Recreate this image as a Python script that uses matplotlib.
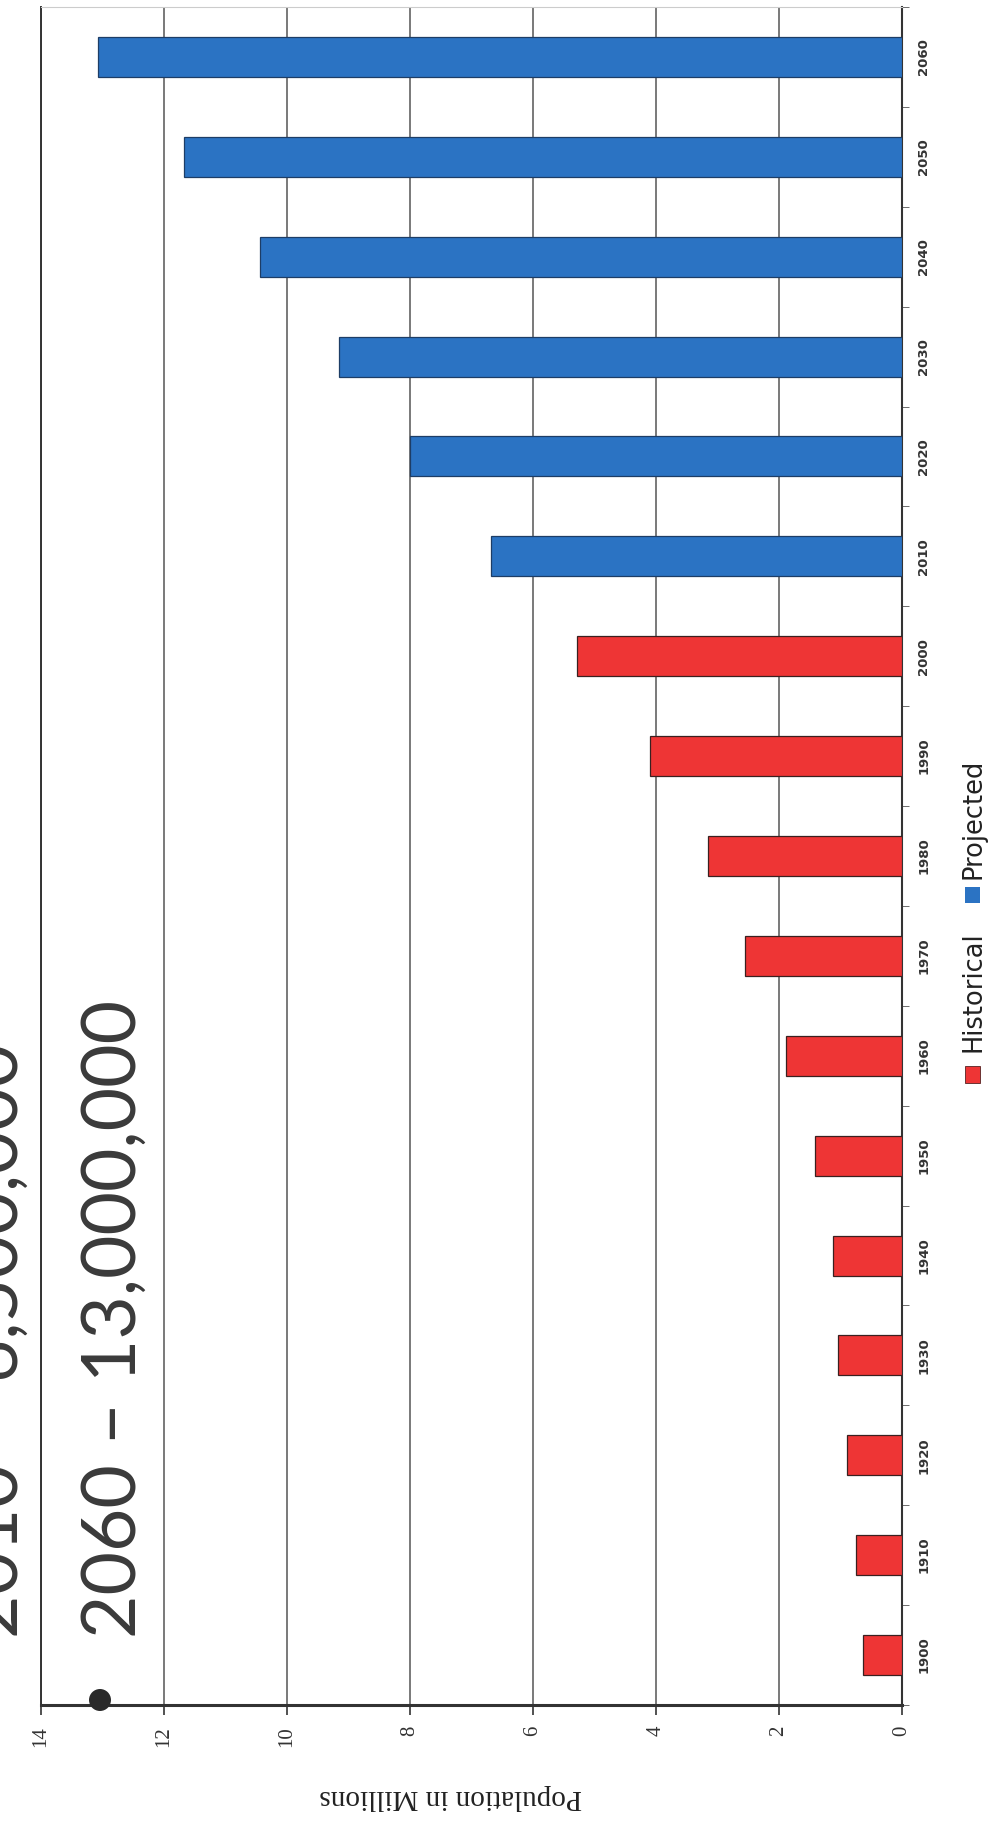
import numpy as np
import matplotlib
matplotlib.use('Agg')
import matplotlib.pyplot as plt
from matplotlib.patches import Rectangle, Ellipse

# --- data (population in millions) ---
hist_years = [1900, 1910, 1920, 1930, 1940, 1950, 1960, 1970, 1980, 1990, 2000]
hist_pop = [0.63, 0.75, 0.90, 1.04, 1.12, 1.41, 1.89, 2.56, 3.15, 4.10, 5.28]
proj_years = [2010, 2020, 2030, 2040, 2050, 2060]
proj_pop = [6.68, 8.00, 9.15, 10.44, 11.68, 13.07]
x_ticks = [0, 2, 4, 6, 8, 10, 12, 14]
bullets = ['2010 \u2013 6,500,000', '2060 \u2013 13,000,000']

RED = '#ee3535'
BLUE = '#2b73c3'
W, H = 997, 1828

fig = plt.figure(figsize=(W / 100, H / 100), dpi=100)
fig.patch.set_facecolor('white')


def fx(px):
    return px / W


def fy(py):
    return 1 - py / H


# chart is drawn "rotated": bars grow leftwards, years run bottom to top
ax = fig.add_axes([fx(41), fy(1705), fx(861), 1698 / H])

years = hist_years + proj_years
pos = {yr: i for i, yr in enumerate(years)}
ax.barh([pos[y] for y in hist_years], hist_pop, height=0.4, color=RED,
        edgecolor='#3a2020', linewidth=0.9, zorder=3)
ax.barh([pos[y] for y in proj_years], proj_pop, height=0.4, color=BLUE,
        edgecolor='#1d3d66', linewidth=0.9, zorder=3)

ax.set_xlim(14, 0)
ax.set_ylim(-0.5, len(years) - 0.5)

# population axis (bottom)
ax.set_xticks(x_ticks)
ax.set_xticklabels([str(t) for t in x_ticks], rotation=90,
                   fontfamily='Liberation Serif', fontsize=15, color='#333')
ax.tick_params(axis='x', direction='out', length=7, width=1.2, pad=8,
               color='#333')
ax.grid(axis='x', color='#555555', linewidth=1.1, zorder=0)
ax.set_axisbelow(True)

# year axis (right)
ax.yaxis.tick_right()
ax.set_yticks(range(len(years)))
ax.set_yticklabels([str(y) for y in years], rotation=90, fontsize=9.5,
                   color='#333', fontweight='bold', va='center')
ax.tick_params(axis='y', which='major', length=0, pad=11)
ax.set_yticks(np.arange(-0.5, len(years), 1.0), minor=True)
ax.tick_params(axis='y', which='minor', right=True, left=False,
               direction='out', length=5, color='#555')

for side, col, lw in [('left', '#333', 1.4), ('right', '#333', 1.5),
                      ('bottom', '#333', 2.2), ('top', '#cccccc', 0.8)]:
    ax.spines[side].set_color(col)
    ax.spines[side].set_linewidth(lw)

fig.text(fx(451), fy(1797), 'Population in Millions', rotation=180,
         ha='center', va='center', fontfamily='Liberation Serif',
         fontsize=21, color='#222')

# legend, drawn rotated like the rest
fig.add_artist(Rectangle((fx(965), fy(1083)), fx(15), 17 / H,
                         facecolor=RED, edgecolor='#552222', lw=0.6))
fig.text(fx(973), fy(1052), 'Historical', rotation=90, rotation_mode='anchor',
         ha='left', va='center', fontfamily='DejaVu Sans', fontsize=18.5,
         color='#222')
fig.add_artist(Rectangle((fx(965), fy(903)), fx(15), 16 / H,
                         facecolor=BLUE, edgecolor='none'))
fig.text(fx(973), fy(879), 'Projected', rotation=90, rotation_mode='anchor',
         ha='left', va='center', fontfamily='DejaVu Sans', fontsize=18.5,
         color='#222')

# slide bullet text laid over the chart
for bx, txt in zip([18, 136], bullets):
    fig.text(fx(bx), fy(1638), txt, rotation=90, rotation_mode='anchor',
             ha='left', va='baseline', fontfamily='Lato', fontsize=54,
             color='#3a3a3a')
fig.add_artist(Ellipse((fx(100), fy(1700)), fx(22), 22 / H,
                       facecolor='#2a2a2a', edgecolor='none'))

fig.savefig('out.png', dpi=100, facecolor='white')
